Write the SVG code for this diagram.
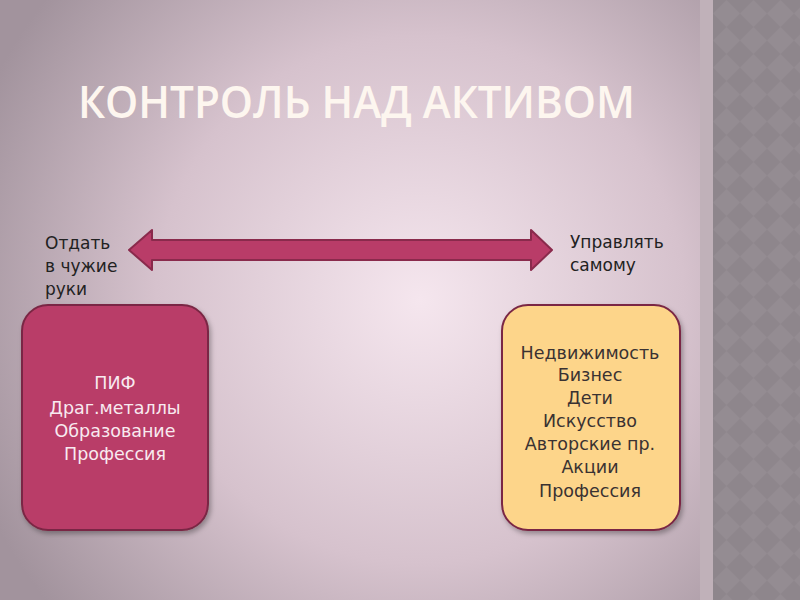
<svg xmlns="http://www.w3.org/2000/svg" width="800" height="600" viewBox="0 0 800 600">
<defs>
<radialGradient id="bg" cx="420" cy="300" r="480" gradientUnits="userSpaceOnUse">
<stop offset="0" stop-color="#f5e6ee"/>
<stop offset="0.55" stop-color="#d6c2cd"/>
<stop offset="1" stop-color="#a2939d"/>
</radialGradient>
<pattern id="dia" x="713" y="0" width="27" height="27" patternUnits="userSpaceOnUse">
<rect width="27" height="27" fill="#8e868c"/>
<polygon points="13.5,0 27,13.5 13.5,27 0,13.5" fill="#948c92"/>
</pattern>
<filter id="sh" x="-10%" y="-10%" width="130%" height="130%">
<feDropShadow dx="2" dy="3" stdDeviation="2.5" flood-color="#000" flood-opacity="0.3"/>
</filter>
<style>
.t{font-family:"DejaVu Sans","Noto Sans",sans-serif;font-size:17.5px;text-anchor:middle}
.l{font-family:"DejaVu Sans","Noto Sans",sans-serif;font-size:17px;fill:#222}
.box{stroke:#7a2844;stroke-width:2}
</style>
</defs>
<rect width="800" height="600" fill="url(#bg)"/>
<rect x="700" y="0" width="13" height="600" fill="#c0b1b9"/>
<rect x="713" y="0" width="87" height="600" fill="url(#dia)"/>
<text x="78" y="118" font-family="'Open Sans','DejaVu Sans',sans-serif" font-weight="600" font-size="45" fill="#fdf6ef" textLength="557" lengthAdjust="spacingAndGlyphs">КОНТРОЛЬ НАД АКТИВОМ</text>
<g id="connectors">
<polygon points="129,250 152,230 152,240 531,240 531,230 552,250 531,270 531,260 152,260 152,270" fill="#b93c68" stroke="#8a2a4c" stroke-width="2" stroke-linejoin="round"/>
</g>
<g id="label-left">
<text class="l" x="45" y="249">Отдать</text>
<text class="l" x="45" y="272">в чужие</text>
<text class="l" x="45" y="295">руки</text>
</g>
<g id="label-right">
<text class="l" x="570" y="248">Управлять</text>
<text class="l" x="570" y="271">самому</text>
</g>
<g id="box-left">
<rect class="box" x="22" y="305" width="186" height="225" rx="26" fill="#b93c68" filter="url(#sh)"/>
<g class="t" fill="#f8eaf0">
<text x="115" y="389">ПИФ</text>
<text x="115" y="414">Драг.металлы</text>
<text x="115" y="437">Образование</text>
<text x="115" y="460">Профессия</text>
</g>
</g>
<g id="box-right">
<rect class="box" x="502" y="305" width="178" height="225" rx="26" fill="#fdd58a" filter="url(#sh)"/>
<g class="t" fill="#3a3232">
<text x="590" y="359">Недвижимость</text>
<text x="590" y="381">Бизнес</text>
<text x="590" y="404">Дети</text>
<text x="590" y="427">Искусство</text>
<text x="590" y="450">Авторские пр.</text>
<text x="590" y="473">Акции</text>
<text x="590" y="497">Профессия</text>
</g>
</g>
</svg>
